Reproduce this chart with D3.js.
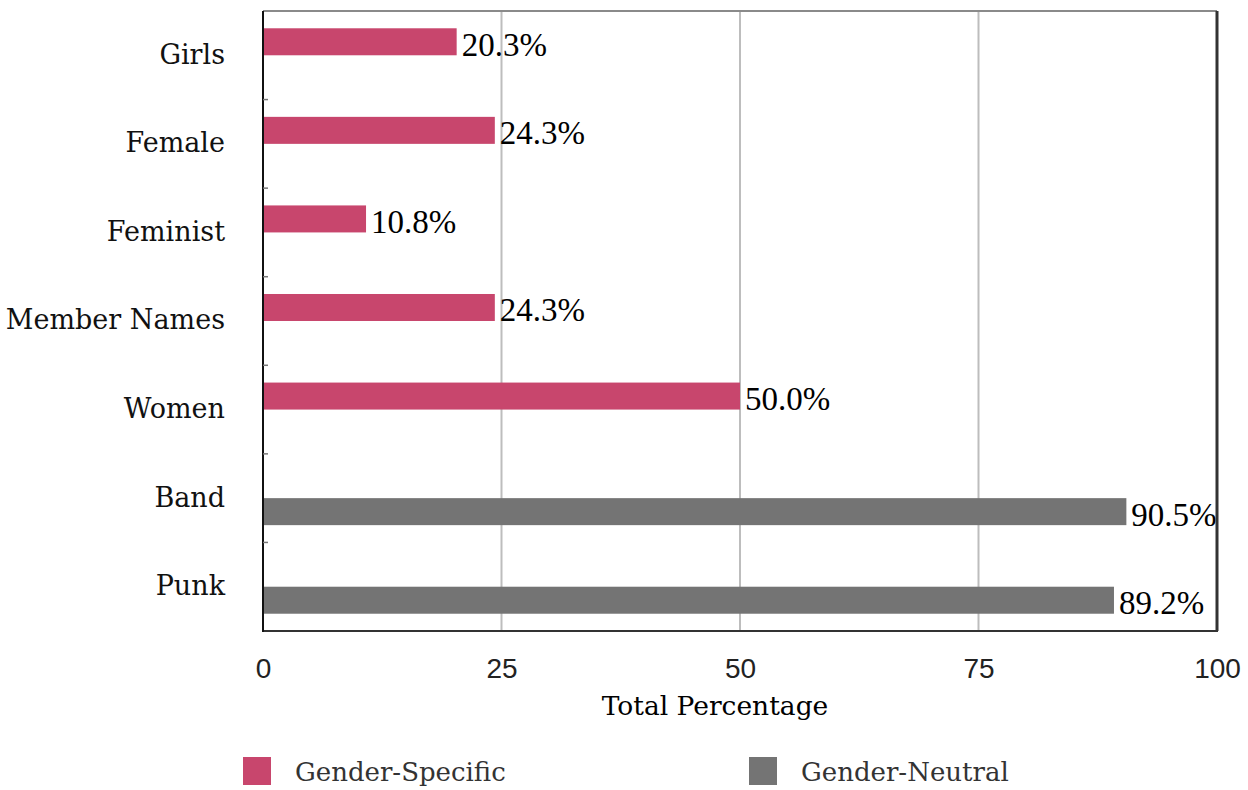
<!DOCTYPE html>
<html>
<head>
<meta charset="utf-8">
<script src="https://cdn.jsdelivr.net/npm/d3@7"></script>
<style>
  html, body { margin: 0; padding: 0; background: #fff; }
  svg { display: block; }
</style>
</head>
<body>
<div id="chart"></div>
<script>
(function() {
    'use strict';

    // Data
    var categories = ['Girls', 'Female', 'Feminist', 'Member Names', 'Women', 'Band', 'Punk'];
    var seriesNames = ['Gender-Specific', 'Gender-Neutral'];
    var genderSpecific = [20.3, 24.3, 10.8, 24.3, 50.0, null, null];
    var genderNeutral = [null, null, null, null, null, 90.5, 89.2];
    var xTicks = [0, 25, 50, 75, 100];

    var colors = { 'Gender-Specific': '#c8466d', 'Gender-Neutral': '#747474' };

    var width = 1248, height = 790;
    var margin = { top: 11, right: 31, bottom: 159, left: 263 };

    var svg = d3.select('#chart').append('svg')
        .attr('width', width)
        .attr('height', height);

    var x = d3.scaleLinear()
        .domain([0, 100])
        .range([margin.left, width - margin.right]);

    var y = d3.scaleBand()
        .domain(categories)
        .range([margin.top, height - margin.bottom])
        .paddingInner(0)
        .paddingOuter(0);

    var y1 = d3.scaleBand()
        .domain(seriesNames)
        .range([0, y.bandwidth()])
        .paddingInner(0)
        .paddingOuter(0.64);

    // Flatten to one record per drawn bar
    var bars = [];
    categories.forEach(function(c, i) {
        if (genderSpecific[i] != null) bars.push({ cat: c, series: 'Gender-Specific', value: genderSpecific[i] });
        if (genderNeutral[i] != null) bars.push({ cat: c, series: 'Gender-Neutral', value: genderNeutral[i] });
    });

    var top = y.range()[0], bottom = y.range()[1];
    var left = x.range()[0], right = x.range()[1];

    // Vertical grid
    svg.append('g')
        .selectAll('line')
        .data(xTicks.filter(function(t) { return t > 0 && t < 100; }))
        .join('line')
        .attr('x1', function(d) { return x(d); })
        .attr('x2', function(d) { return x(d); })
        .attr('y1', top)
        .attr('y2', bottom)
        .attr('stroke', '#bdbdbd')
        .attr('stroke-width', 2);

    // Bars
    svg.append('g')
        .selectAll('rect')
        .data(bars)
        .join('rect')
        .attr('x', x(0))
        .attr('y', function(d) { return y(d.cat) + y1(d.series); })
        .attr('width', function(d) { return x(d.value) - x(0); })
        .attr('height', y1.bandwidth())
        .attr('fill', function(d) { return colors[d.series]; });

    // Value labels
    svg.append('g')
        .selectAll('text')
        .data(bars)
        .join('text')
        .attr('x', function(d) { return x(d.value) + 5; })
        .attr('y', function(d) { return y(d.cat) + y1(d.series) + y1.bandwidth() / 2 + 14; })
        .attr('font-family', '"Liberation Serif", serif')
        .attr('font-size', '33px')
        .attr('fill', '#000')
        .text(function(d) { return d.value.toFixed(1) + '%'; });

    // Frame: top lighter, right/bottom darker like the reference
    svg.append('line')
        .attr('x1', left).attr('x2', right).attr('y1', top).attr('y2', top)
        .attr('stroke', '#8a8a8a').attr('stroke-width', 2);
    svg.append('line')
        .attr('x1', right).attr('x2', right).attr('y1', top).attr('y2', bottom)
        .attr('stroke', '#333').attr('stroke-width', 3);
    svg.append('line')
        .attr('x1', left).attr('x2', right + 1).attr('y1', bottom).attr('y2', bottom)
        .attr('stroke', '#333').attr('stroke-width', 2);
    svg.append('line')
        .attr('x1', left).attr('x2', left).attr('y1', top).attr('y2', bottom + 1)
        .attr('stroke', '#111').attr('stroke-width', 2);

    // Small ticks on left axis at band boundaries
    svg.append('g')
        .selectAll('line')
        .data(categories.slice(1))
        .join('line')
        .attr('x1', left)
        .attr('x2', left + 5)
        .attr('y1', function(d) { return y(d); })
        .attr('y2', function(d) { return y(d); })
        .attr('stroke', '#777')
        .attr('stroke-width', 1.5);

    // Category labels
    svg.append('g')
        .selectAll('text')
        .data(categories)
        .join('text')
        .attr('x', left - 38)
        .attr('y', function(d) { return y(d) + y.bandwidth() / 2 - 1; })
        .attr('dy', '0.35em')
        .attr('text-anchor', 'end')
        .attr('font-family', '"DejaVu Serif", serif')
        .attr('font-size', '27px')
        .attr('fill', '#111')
        .text(function(d) { return d; });

    // X axis tick labels
    var xAxis = d3.axisBottom(x)
        .tickValues(xTicks)
        .tickSize(0)
        .tickPadding(0)
        .tickFormat(d3.format('d'));

    var gx = svg.append('g')
        .attr('transform', 'translate(0,' + (bottom + 27) + ')')
        .call(xAxis);
    gx.select('.domain').remove();
    gx.selectAll('text')
        .attr('font-family', '"Liberation Sans", sans-serif')
        .attr('font-size', '28px')
        .attr('fill', '#222');

    // Axis title
    svg.append('text')
        .attr('x', (left + right) / 2 - 25)
        .attr('y', 715)
        .attr('text-anchor', 'middle')
        .attr('font-family', '"DejaVu Serif", serif')
        .attr('font-size', '26.5px')
        .attr('fill', '#000')
        .text('Total Percentage');

    // Legend
    var legendX = [243, 749];
    var legend = svg.append('g')
        .selectAll('g')
        .data(seriesNames)
        .join('g')
        .attr('transform', function(d, i) { return 'translate(' + legendX[i] + ',757)'; });

    legend.append('rect')
        .attr('width', 28)
        .attr('height', 28)
        .attr('fill', function(d) { return colors[d]; });

    legend.append('text')
        .attr('x', 52)
        .attr('y', 15)
        .attr('dy', '0.35em')
        .attr('font-family', '"DejaVu Serif", serif')
        .attr('font-size', '26px')
        .attr('fill', '#333')
        .text(function(d) { return d; });
})();
</script>
</body>
</html>
